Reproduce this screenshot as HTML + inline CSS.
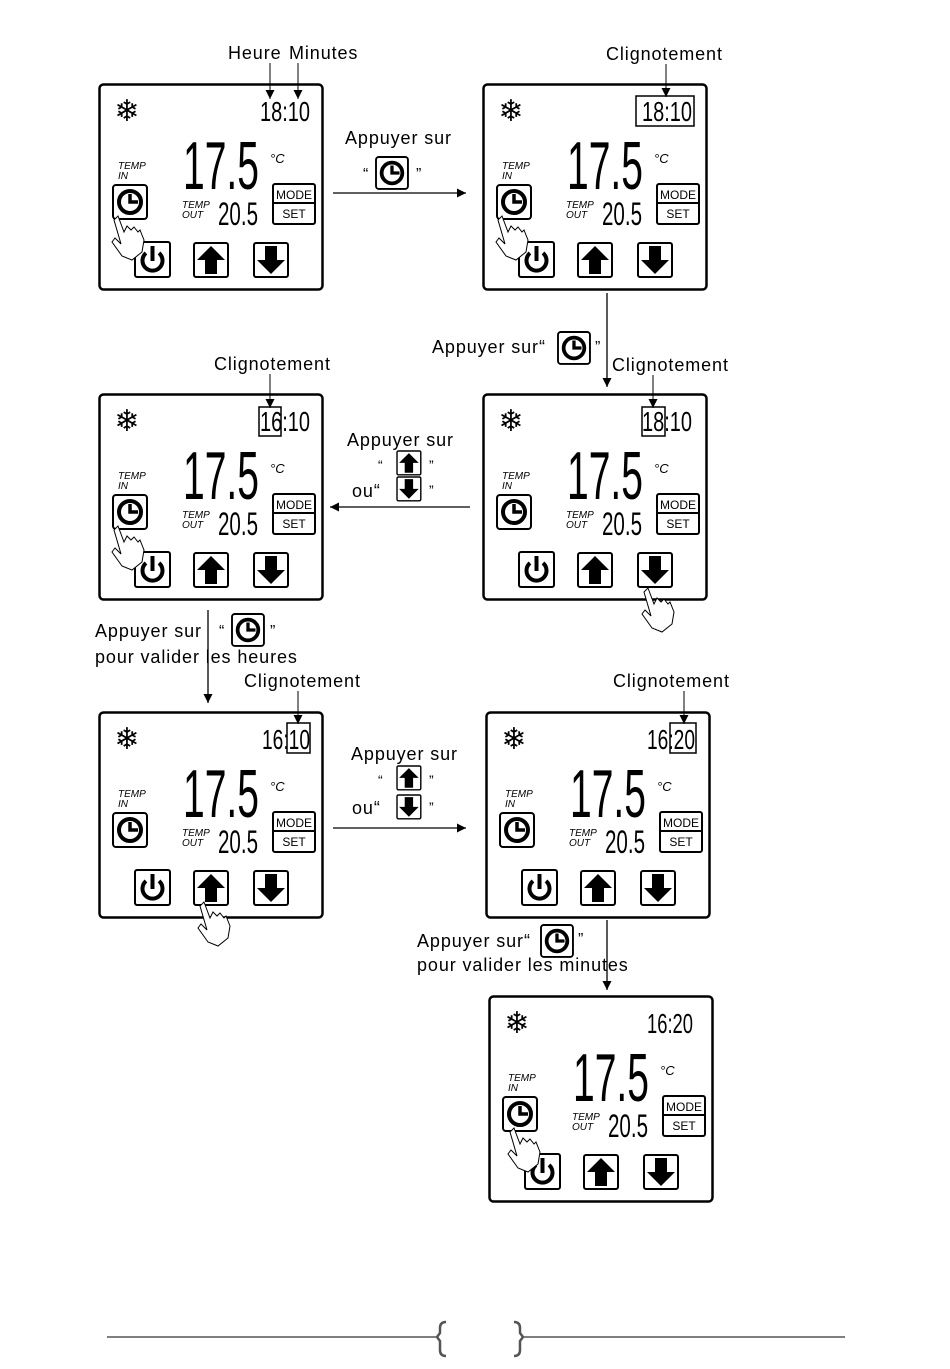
<!DOCTYPE html>
<html><head><meta charset="utf-8"><style>
html,body{margin:0;padding:0;background:#fff}
svg{display:block}
text{font-family:"Liberation Sans",sans-serif}
.lbl{font-size:18px;letter-spacing:0.9px}
</style></head><body>
<svg width="950" height="1369" viewBox="0 0 950 1369" xmlns="http://www.w3.org/2000/svg">
<defs>
<marker id="ah" viewBox="0 0 10 10" refX="10" refY="5" markerWidth="9" markerHeight="9" orient="auto" markerUnits="userSpaceOnUse"><path d="M0,0 L10,5 L0,10 z" fill="#000"/></marker>
<g id="clk"><rect x="0" y="0" width="34" height="34" rx="3" fill="#fff" stroke="#000" stroke-width="2"/><circle cx="17" cy="17" r="11" fill="none" stroke="#000" stroke-width="4"/><path d="M17,9 V17 H25" fill="none" stroke="#000" stroke-width="3.5"/></g>
<g id="up"><rect x="0" y="0" width="34" height="34" rx="2" fill="#fff" stroke="#000" stroke-width="2"/><path d="M17,3 L31,17 H23 V31 H11 V17 H3 z" fill="#000"/></g>
<g id="dn"><rect x="0" y="0" width="34" height="34" rx="2" fill="#fff" stroke="#000" stroke-width="2"/><path d="M17,31 L31,17 H23 V3 H11 V17 H3 z" fill="#000"/></g>
<g id="hand"><path d="M6,0 L12,16 L15,10 L19,14 L22,11 L26,16 L28,14 L32,24 L30,36 L20,44 L10,40 L0,26 L3,22 L9,28 L2,4 z" fill="#fff" stroke="#000" stroke-width="1"/></g>
<g id="panel">
<rect x="1.5" y="1.5" width="223" height="205" rx="4" fill="#fff" stroke="#000" stroke-width="2.5"/>
<text x="29" y="38" font-size="30" text-anchor="middle" font-family="DejaVu Sans">❄</text>
<text x="85" y="106" font-size="68" textLength="76" lengthAdjust="spacingAndGlyphs">17.5</text>
<text x="172" y="80" font-size="13" font-style="italic">°C</text>
<text x="20" y="86" font-size="10" font-style="italic">TEMP</text>
<text x="20" y="96" font-size="10" font-style="italic">IN</text>
<use href="#clk" x="15" y="102"/>
<text x="84" y="125" font-size="10" font-style="italic">TEMP</text>
<text x="84" y="135" font-size="10" font-style="italic">OUT</text>
<text x="120" y="142" font-size="32" textLength="40" lengthAdjust="spacingAndGlyphs">20.5</text>
<rect x="175" y="101" width="42" height="40" rx="2" fill="#fff" stroke="#000" stroke-width="2"/>
<line x1="175" y1="120" x2="217" y2="120" stroke="#000" stroke-width="2"/>
<text x="196" y="116" font-size="12" text-anchor="middle">MODE</text>
<text x="196" y="135" font-size="12" text-anchor="middle">SET</text>
<rect x="37" y="159" width="35" height="35" rx="2" fill="#fff" stroke="#000" stroke-width="2"/>
<path d="M48,170 A10,10 0 1 0 61,170" fill="none" stroke="#000" stroke-width="4"/>
<line x1="54.5" y1="163" x2="54.5" y2="178" stroke="#000" stroke-width="4"/>
<use href="#up" x="96" y="160"/>
<use href="#dn" x="156" y="160"/>
</g>
</defs>

<use href="#panel" x="98" y="83"/>
<text x="260" y="121" font-size="28" textLength="50" lengthAdjust="spacingAndGlyphs">18:10</text>
<use href="#panel" x="482" y="83"/>
<text x="642" y="121" font-size="28" textLength="50" lengthAdjust="spacingAndGlyphs">18:10</text>
<use href="#panel" x="98" y="393"/>
<text x="260" y="431" font-size="28" textLength="50" lengthAdjust="spacingAndGlyphs">16:10</text>
<use href="#panel" x="482" y="393"/>
<text x="642" y="431" font-size="28" textLength="50" lengthAdjust="spacingAndGlyphs">18:10</text>
<use href="#panel" x="98" y="711"/>
<text x="262" y="749" font-size="28" textLength="48" lengthAdjust="spacingAndGlyphs">16:10</text>
<use href="#panel" x="485" y="711"/>
<text x="647" y="749" font-size="28" textLength="48" lengthAdjust="spacingAndGlyphs">16:20</text>
<use href="#panel" x="488" y="995"/>
<text x="647" y="1033" font-size="28" textLength="46" lengthAdjust="spacingAndGlyphs">16:20</text>

<use href="#hand" x="112" y="216"/>
<use href="#hand" x="496" y="216"/>
<use href="#hand" x="112" y="526"/>
<use href="#hand" x="642" y="588"/>
<use href="#hand" x="198" y="902"/>
<use href="#hand" x="508" y="1128"/>

<text x="228" y="59" class="lbl">Heure</text>
<text x="289" y="59" class="lbl">Minutes</text>
<line x1="270" y1="63" x2="270" y2="99" stroke="#000" marker-end="url(#ah)"/>
<line x1="298" y1="63" x2="298" y2="99" stroke="#000" marker-end="url(#ah)"/>

<text x="606" y="60" class="lbl">Clignotement</text>
<line x1="666" y1="64" x2="666" y2="97" stroke="#000" marker-end="url(#ah)"/>
<rect x="636" y="96" width="58" height="30" fill="none" stroke="#000" stroke-width="1.5"/>

<text x="214" y="370" class="lbl">Clignotement</text>
<line x1="270" y1="374" x2="270" y2="408" stroke="#000" marker-end="url(#ah)"/>
<rect x="259" y="407" width="22" height="29" fill="none" stroke="#000" stroke-width="1.5"/>

<text x="612" y="371" class="lbl">Clignotement</text>
<line x1="653" y1="375" x2="653" y2="408" stroke="#000" marker-end="url(#ah)"/>
<rect x="642" y="407" width="23" height="29" fill="none" stroke="#000" stroke-width="1.5"/>

<text x="244" y="687" class="lbl">Clignotement</text>
<line x1="298" y1="691" x2="298" y2="724" stroke="#000" marker-end="url(#ah)"/>
<rect x="287" y="723" width="23" height="30" fill="none" stroke="#000" stroke-width="1.5"/>

<text x="613" y="687" class="lbl">Clignotement</text>
<line x1="684" y1="691" x2="684" y2="724" stroke="#000" marker-end="url(#ah)"/>
<rect x="670" y="723" width="26" height="30" fill="none" stroke="#000" stroke-width="1.5"/>

<text x="345" y="144" class="lbl">Appuyer sur</text>
<text x="363" y="179" font-size="16">“</text>
<use href="#clk" x="376" y="157" transform="translate(376,157) scale(0.94) translate(-376,-157)"/>
<text x="416" y="179" font-size="16">”</text>
<line x1="333" y1="193" x2="466" y2="193" stroke="#000" stroke-width="1.3" marker-end="url(#ah)"/>

<line x1="607" y1="293" x2="607" y2="387" stroke="#000" stroke-width="1.3" marker-end="url(#ah)"/>
<text x="432" y="353" class="lbl">Appuyer sur“</text>
<use href="#clk" x="558" y="332" transform="translate(558,332) scale(0.94) translate(-558,-332)"/>
<text x="595" y="352" font-size="16">”</text>

<text x="347" y="446" class="lbl">Appuyer sur</text>
<text x="378" y="470" font-size="14">“</text>
<use href="#up" x="397" y="451" transform="translate(397,451) scale(0.7) translate(-397,-451)"/>
<text x="429" y="470" font-size="14">”</text>
<text x="352" y="497" class="lbl">ou“</text>
<use href="#dn" x="397" y="477" transform="translate(397,477) scale(0.7) translate(-397,-477)"/>
<text x="429" y="495" font-size="14">”</text>
<line x1="470" y1="507" x2="330" y2="507" stroke="#000" stroke-width="1.3" marker-end="url(#ah)"/>

<line x1="208" y1="610" x2="208" y2="703" stroke="#000" stroke-width="1.3" marker-end="url(#ah)"/>
<text x="95" y="637" class="lbl">Appuyer sur</text>
<text x="219" y="636" font-size="16">“</text>
<use href="#clk" x="232" y="614" transform="translate(232,614) scale(0.94) translate(-232,-614)"/>
<text x="270" y="636" font-size="16">”</text>
<text x="95" y="663" class="lbl">pour valider les heures</text>

<text x="351" y="760" class="lbl">Appuyer sur</text>
<text x="378" y="785" font-size="14">“</text>
<use href="#up" x="397" y="766" transform="translate(397,766) scale(0.7) translate(-397,-766)"/>
<text x="429" y="785" font-size="14">”</text>
<text x="352" y="814" class="lbl">ou“</text>
<use href="#dn" x="397" y="795" transform="translate(397,795) scale(0.7) translate(-397,-795)"/>
<text x="429" y="812" font-size="14">”</text>
<line x1="333" y1="828" x2="466" y2="828" stroke="#000" stroke-width="1.3" marker-end="url(#ah)"/>

<line x1="607" y1="920" x2="607" y2="990" stroke="#000" stroke-width="1.3" marker-end="url(#ah)"/>
<text x="417" y="947" class="lbl">Appuyer sur“</text>
<use href="#clk" x="541" y="925" transform="translate(541,925) scale(0.94) translate(-541,-925)"/>
<text x="578" y="944" font-size="16">”</text>
<text x="417" y="971" class="lbl">pour valider les minutes</text>

<line x1="107" y1="1337" x2="437" y2="1337" stroke="#555" stroke-width="1.5"/>
<line x1="523" y1="1337" x2="845" y2="1337" stroke="#555" stroke-width="1.5"/>
<path d="M446,1322 Q440,1322 440,1328 V1333 L437,1337 L440,1341 V1350 Q440,1356 446,1356" fill="none" stroke="#555" stroke-width="2.5"/>
<path d="M514,1322 Q520,1322 520,1328 V1333 L523,1337 L520,1341 V1350 Q520,1356 514,1356" fill="none" stroke="#555" stroke-width="2.5"/>
</svg>
</body></html>
